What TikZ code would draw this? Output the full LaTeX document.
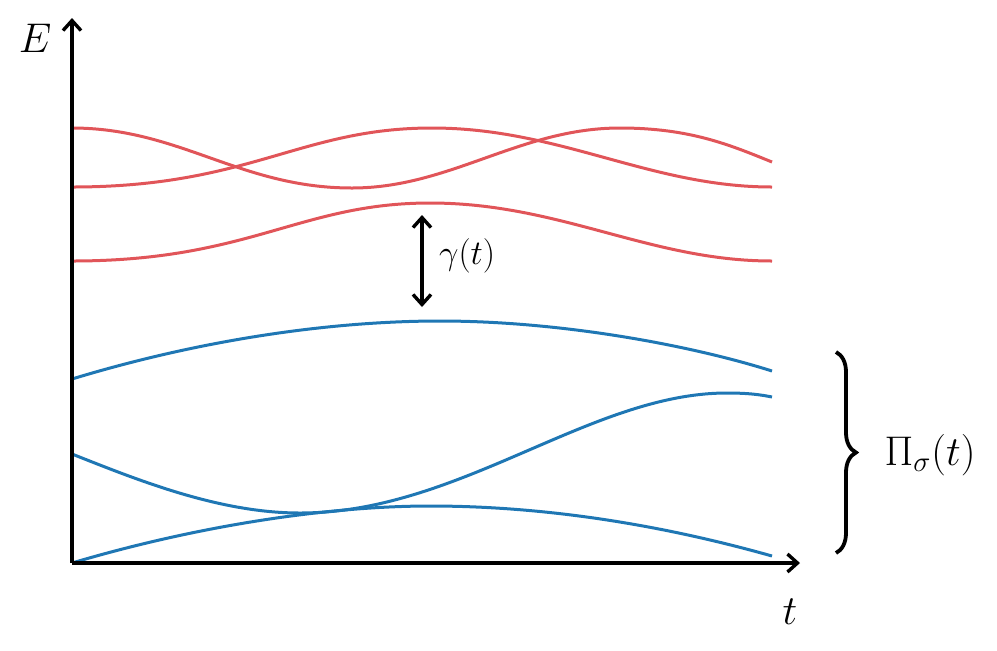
\documentclass[tikz,border=0pt]{standalone}
\usetikzlibrary{arrows.meta,decorations.pathreplacing}
\definecolor{lvred}{RGB}{225,85,89}
\definecolor{lvblue}{RGB}{31,119,180}
\begin{document}
\begin{tikzpicture}[x=0.5pt,y=-0.5pt,
  axis/.style={line width=1.7pt,-{Straight Barb[length=5pt,width=9pt]}},
  gap/.style={line width=1.7pt,{Straight Barb[length=5pt,width=9pt]}-{Straight Barb[length=5pt,width=9pt]}},
  redlev/.style={line width=1.5pt,lvred},
  bluelev/.style={line width=1.5pt,lvblue},
  biglab/.style={font=\fontsize{22}{26}\selectfont},
  smalllab/.style={font=\fontsize{18}{22}\selectfont}]
\useasboundingbox (0,0) rectangle (997,650);
% red levels
\draw[redlev] (72,128) .. controls (180,128) and (240,188) .. (352,188)
  .. controls (450,188) and (520,128) .. (620,128)
  .. controls (690,128) and (730,145) .. (772,162);
\draw[redlev] (72,187) .. controls (250,187) and (300,128) .. (432,128)
  .. controls (560,128) and (650,187) .. (772,187);
\draw[redlev] (72,261) .. controls (250,261) and (300,203) .. (430,203)
  .. controls (560,203) and (650,261) .. (772,261);
% blue levels
\draw[bluelev] (72,379) .. controls (200,340) and (330,321) .. (440,321)
  .. controls (560,321) and (690,345) .. (772,371);
\draw[bluelev] (72,454) .. controls (140,481) and (220,513) .. (300,513)
  .. controls (460,513) and (590,393) .. (727,393)
  .. controls (750,393) and (762,395) .. (772,397);
\draw[bluelev] (72,563) .. controls (200,525) and (330,506) .. (430,506)
  .. controls (560,506) and (680,530) .. (772,556);
% axes
\coordinate (O) at (72,563);
\coordinate (ytop) at (72,18);
\coordinate (xend) at (800,563);
\draw[axis] (O) -- (ytop);
\draw[axis] (O) -- (xend);
\node[biglab] (Elab) at (35,38) {$E$};
\node[biglab] (tlab) at (790,612) {$t$};
% gap
\coordinate (gtop) at (422,215);
\coordinate (gbot) at (422,307);
\draw[gap] (gtop) -- (gbot);
\node[smalllab,anchor=west] (glab) at (432,256) {$\gamma(t)$};
% brace
\coordinate (btop) at (836,352);
\coordinate (bbot) at (836,553);
\draw[line width=1.9pt,decorate,decoration={brace,amplitude=10pt}] (btop) -- (bbot);
\node[biglab] (plab) at (930,455) {$\Pi_\sigma(t)$};
\end{tikzpicture}
\end{document}
